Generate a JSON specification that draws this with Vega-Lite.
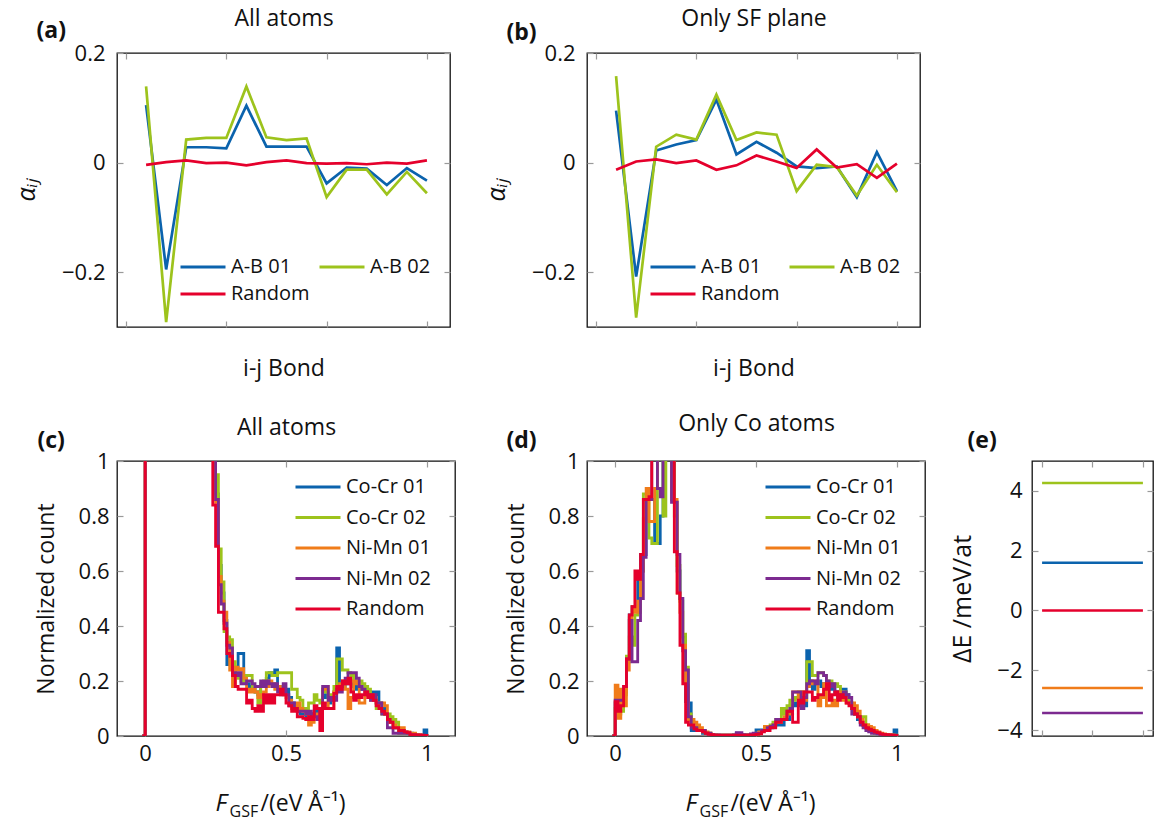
{
  "$schema": "https://vega.github.io/schema/vega-lite/v6.json",
  "background": "white",
  "padding": {"left": 13, "top": 6, "right": 5, "bottom": 5},
  "config": {
    "font": "Open Sans",
    "view": {"stroke": "#111111", "strokeWidth": 1.3},
    "axis": {
      "grid": false, "domain": false,
      "tickColor": "#9a9a9a", "tickWidth": 1.2, "tickSize": -6,
      "labelFont": "Open Sans", "titleFont": "Open Sans",
      "labelFontSize": 22, "titleFontSize": 23,
      "labelColor": "#111111", "titleColor": "#111111",
      "titleFontWeight": "normal"
    },
    "legend": {"labelFont": "Open Sans", "labelFontSize": 20, "labelColor": "#111111"}
  },
  "datasets": {
    "alphaAll": [
      {"bond": 1, "A-B 01": 0.105, "A-B 02": 0.139, "Random": -0.004},
      {"bond": 2, "A-B 01": -0.195, "A-B 02": -0.291, "Random": 0.001},
      {"bond": 3, "A-B 01": 0.028, "A-B 02": 0.042, "Random": 0.004},
      {"bond": 4, "A-B 01": 0.028, "A-B 02": 0.045, "Random": -0.001},
      {"bond": 5, "A-B 01": 0.026, "A-B 02": 0.045, "Random": 0.0},
      {"bond": 6, "A-B 01": 0.104, "A-B 02": 0.139, "Random": -0.005},
      {"bond": 7, "A-B 01": 0.029, "A-B 02": 0.046, "Random": 0.001},
      {"bond": 8, "A-B 01": 0.029, "A-B 02": 0.041, "Random": 0.004},
      {"bond": 9, "A-B 01": 0.029, "A-B 02": 0.044, "Random": -0.001},
      {"bond": 10, "A-B 01": -0.038, "A-B 02": -0.063, "Random": -0.002},
      {"bond": 11, "A-B 01": -0.009, "A-B 02": -0.013, "Random": -0.001},
      {"bond": 12, "A-B 01": -0.011, "A-B 02": -0.013, "Random": -0.003},
      {"bond": 13, "A-B 01": -0.041, "A-B 02": -0.058, "Random": 0.0},
      {"bond": 14, "A-B 01": -0.010, "A-B 02": -0.017, "Random": -0.002},
      {"bond": 15, "A-B 01": -0.033, "A-B 02": -0.056, "Random": 0.004}
    ],
    "alphaSF": [
      {"bond": 1, "A-B 01": 0.095, "A-B 02": 0.158, "Random": -0.013},
      {"bond": 2, "A-B 01": -0.208, "A-B 02": -0.283, "Random": 0.002},
      {"bond": 3, "A-B 01": 0.022, "A-B 02": 0.029, "Random": 0.006},
      {"bond": 4, "A-B 01": 0.033, "A-B 02": 0.051, "Random": -0.001},
      {"bond": 5, "A-B 01": 0.041, "A-B 02": 0.042, "Random": 0.004},
      {"bond": 6, "A-B 01": 0.115, "A-B 02": 0.124, "Random": -0.013},
      {"bond": 7, "A-B 01": 0.015, "A-B 02": 0.041, "Random": -0.005},
      {"bond": 8, "A-B 01": 0.038, "A-B 02": 0.055, "Random": 0.013},
      {"bond": 9, "A-B 01": 0.018, "A-B 02": 0.051, "Random": 0.002},
      {"bond": 10, "A-B 01": -0.007, "A-B 02": -0.052, "Random": -0.010},
      {"bond": 11, "A-B 01": -0.010, "A-B 02": -0.004, "Random": 0.024},
      {"bond": 12, "A-B 01": -0.007, "A-B 02": -0.008, "Random": -0.009},
      {"bond": 13, "A-B 01": -0.063, "A-B 02": -0.060, "Random": -0.003},
      {"bond": 14, "A-B 01": 0.019, "A-B 02": -0.004, "Random": -0.028},
      {"bond": 15, "A-B 01": -0.052, "A-B 02": -0.054, "Random": -0.002}
    ],
    "gsfAll": [
      {"x": -0.01, "cocr1": 0, "cocr2": 0, "nimn1": 0, "nimn2": 0, "rand": 0},
      {"x": 0.00, "cocr1": 3, "cocr2": 3, "nimn1": 3, "nimn2": 3, "rand": 3},
      {"x": 0.24, "cocr1": 1.2, "cocr2": 1.2, "nimn1": 1.1, "nimn2": 1.1, "rand": 0.84},
      {"x": 0.25, "cocr1": 0.88, "cocr2": 0.95, "nimn1": 0.85, "nimn2": 0.86, "rand": 0.69},
      {"x": 0.26, "cocr1": 0.62, "cocr2": 0.68, "nimn1": 0.58, "nimn2": 0.55, "rand": 0.45},
      {"x": 0.27, "cocr1": 0.52, "cocr2": 0.56, "nimn1": 0.49, "nimn2": 0.48, "rand": 0.45},
      {"x": 0.28, "cocr1": 0.42, "cocr2": 0.38, "nimn1": 0.45, "nimn2": 0.41, "rand": 0.39},
      {"x": 0.29, "cocr1": 0.26, "cocr2": 0.36, "nimn1": 0.34, "nimn2": 0.33, "rand": 0.30},
      {"x": 0.30, "cocr1": 0.28, "cocr2": 0.35, "nimn1": 0.24, "nimn2": 0.32, "rand": 0.29},
      {"x": 0.31, "cocr1": 0.24, "cocr2": 0.27, "nimn1": 0.18, "nimn2": 0.23, "rand": 0.22},
      {"x": 0.32, "cocr1": 0.25, "cocr2": 0.22, "nimn1": 0.25, "nimn2": 0.22, "rand": 0.18},
      {"x": 0.33, "cocr1": 0.30, "cocr2": 0.21, "nimn1": 0.24, "nimn2": 0.23, "rand": 0.17},
      {"x": 0.34, "cocr1": 0.30, "cocr2": 0.20, "nimn1": 0.245, "nimn2": 0.19, "rand": 0.17},
      {"x": 0.35, "cocr1": 0.20, "cocr2": 0.22, "nimn1": 0.21, "nimn2": 0.19, "rand": 0.17},
      {"x": 0.36, "cocr1": 0.19, "cocr2": 0.22, "nimn1": 0.17, "nimn2": 0.20, "rand": 0.12},
      {"x": 0.37, "cocr1": 0.18, "cocr2": 0.22, "nimn1": 0.16, "nimn2": 0.20, "rand": 0.13},
      {"x": 0.38, "cocr1": 0.17, "cocr2": 0.17, "nimn1": 0.17, "nimn2": 0.19, "rand": 0.10},
      {"x": 0.39, "cocr1": 0.16, "cocr2": 0.16, "nimn1": 0.16, "nimn2": 0.18, "rand": 0.09},
      {"x": 0.40, "cocr1": 0.15, "cocr2": 0.12, "nimn1": 0.14, "nimn2": 0.18, "rand": 0.11},
      {"x": 0.41, "cocr1": 0.18, "cocr2": 0.19, "nimn1": 0.15, "nimn2": 0.20, "rand": 0.09},
      {"x": 0.42, "cocr1": 0.19, "cocr2": 0.20, "nimn1": 0.16, "nimn2": 0.18, "rand": 0.15},
      {"x": 0.43, "cocr1": 0.21, "cocr2": 0.23, "nimn1": 0.18, "nimn2": 0.20, "rand": 0.12},
      {"x": 0.44, "cocr1": 0.23, "cocr2": 0.23, "nimn1": 0.20, "nimn2": 0.19, "rand": 0.15},
      {"x": 0.45, "cocr1": 0.22, "cocr2": 0.22, "nimn1": 0.19, "nimn2": 0.18, "rand": 0.12},
      {"x": 0.46, "cocr1": 0.24, "cocr2": 0.22, "nimn1": 0.17, "nimn2": 0.19, "rand": 0.15},
      {"x": 0.47, "cocr1": 0.18, "cocr2": 0.23, "nimn1": 0.18, "nimn2": 0.16, "rand": 0.15},
      {"x": 0.48, "cocr1": 0.17, "cocr2": 0.23, "nimn1": 0.16, "nimn2": 0.15, "rand": 0.17},
      {"x": 0.49, "cocr1": 0.16, "cocr2": 0.23, "nimn1": 0.15, "nimn2": 0.19, "rand": 0.15},
      {"x": 0.50, "cocr1": 0.17, "cocr2": 0.23, "nimn1": 0.14, "nimn2": 0.15, "rand": 0.12},
      {"x": 0.51, "cocr1": 0.14, "cocr2": 0.23, "nimn1": 0.13, "nimn2": 0.11, "rand": 0.11},
      {"x": 0.52, "cocr1": 0.12, "cocr2": 0.17, "nimn1": 0.10, "nimn2": 0.12, "rand": 0.09},
      {"x": 0.53, "cocr1": 0.11, "cocr2": 0.17, "nimn1": 0.11, "nimn2": 0.10, "rand": 0.10},
      {"x": 0.54, "cocr1": 0.09, "cocr2": 0.14, "nimn1": 0.12, "nimn2": 0.09, "rand": 0.07},
      {"x": 0.55, "cocr1": 0.08, "cocr2": 0.13, "nimn1": 0.10, "nimn2": 0.09, "rand": 0.07},
      {"x": 0.56, "cocr1": 0.08, "cocr2": 0.10, "nimn1": 0.09, "nimn2": 0.09, "rand": 0.064},
      {"x": 0.57, "cocr1": 0.07, "cocr2": 0.10, "nimn1": 0.08, "nimn2": 0.08, "rand": 0.06},
      {"x": 0.58, "cocr1": 0.07, "cocr2": 0.12, "nimn1": 0.04, "nimn2": 0.09, "rand": 0.07},
      {"x": 0.59, "cocr1": 0.08, "cocr2": 0.12, "nimn1": 0.05, "nimn2": 0.08, "rand": 0.06},
      {"x": 0.60, "cocr1": 0.09, "cocr2": 0.15, "nimn1": 0.07, "nimn2": 0.07, "rand": 0.11},
      {"x": 0.61, "cocr1": 0.08, "cocr2": 0.13, "nimn1": 0.08, "nimn2": 0.06, "rand": 0.10},
      {"x": 0.62, "cocr1": 0.09, "cocr2": 0.12, "nimn1": 0.07, "nimn2": 0.10, "rand": 0.02},
      {"x": 0.63, "cocr1": 0.14, "cocr2": 0.17, "nimn1": 0.17, "nimn2": 0.18, "rand": 0.12},
      {"x": 0.64, "cocr1": 0.15, "cocr2": 0.16, "nimn1": 0.18, "nimn2": 0.18, "rand": 0.10},
      {"x": 0.65, "cocr1": 0.12, "cocr2": 0.14, "nimn1": 0.10, "nimn2": 0.13, "rand": 0.10},
      {"x": 0.66, "cocr1": 0.13, "cocr2": 0.15, "nimn1": 0.10, "nimn2": 0.14, "rand": 0.10},
      {"x": 0.67, "cocr1": 0.16, "cocr2": 0.18, "nimn1": 0.16, "nimn2": 0.13, "rand": 0.155},
      {"x": 0.68, "cocr1": 0.32, "cocr2": 0.28, "nimn1": 0.18, "nimn2": 0.17, "rand": 0.18},
      {"x": 0.69, "cocr1": 0.19, "cocr2": 0.28, "nimn1": 0.19, "nimn2": 0.16, "rand": 0.17},
      {"x": 0.70, "cocr1": 0.18, "cocr2": 0.24, "nimn1": 0.20, "nimn2": 0.19, "rand": 0.20},
      {"x": 0.71, "cocr1": 0.20, "cocr2": 0.24, "nimn1": 0.17, "nimn2": 0.21, "rand": 0.19},
      {"x": 0.72, "cocr1": 0.19, "cocr2": 0.23, "nimn1": 0.10, "nimn2": 0.23, "rand": 0.21},
      {"x": 0.73, "cocr1": 0.19, "cocr2": 0.22, "nimn1": 0.14, "nimn2": 0.23, "rand": 0.16},
      {"x": 0.74, "cocr1": 0.18, "cocr2": 0.20, "nimn1": 0.20, "nimn2": 0.23, "rand": 0.13},
      {"x": 0.75, "cocr1": 0.17, "cocr2": 0.20, "nimn1": 0.19, "nimn2": 0.21, "rand": 0.15},
      {"x": 0.76, "cocr1": 0.18, "cocr2": 0.20, "nimn1": 0.12, "nimn2": 0.18, "rand": 0.14},
      {"x": 0.77, "cocr1": 0.17, "cocr2": 0.19, "nimn1": 0.12, "nimn2": 0.17, "rand": 0.15},
      {"x": 0.78, "cocr1": 0.17, "cocr2": 0.18, "nimn1": 0.16, "nimn2": 0.16, "rand": 0.16},
      {"x": 0.79, "cocr1": 0.15, "cocr2": 0.17, "nimn1": 0.15, "nimn2": 0.15, "rand": 0.14},
      {"x": 0.80, "cocr1": 0.16, "cocr2": 0.15, "nimn1": 0.13, "nimn2": 0.13, "rand": 0.15},
      {"x": 0.81, "cocr1": 0.15, "cocr2": 0.14, "nimn1": 0.14, "nimn2": 0.15, "rand": 0.13},
      {"x": 0.82, "cocr1": 0.16, "cocr2": 0.10, "nimn1": 0.12, "nimn2": 0.12, "rand": 0.11},
      {"x": 0.83, "cocr1": 0.12, "cocr2": 0.10, "nimn1": 0.12, "nimn2": 0.12, "rand": 0.10},
      {"x": 0.84, "cocr1": 0.10, "cocr2": 0.08, "nimn1": 0.12, "nimn2": 0.08, "rand": 0.09},
      {"x": 0.85, "cocr1": 0.08, "cocr2": 0.08, "nimn1": 0.11, "nimn2": 0.08, "rand": 0.08},
      {"x": 0.86, "cocr1": 0.06, "cocr2": 0.08, "nimn1": 0.05, "nimn2": 0.03, "rand": 0.06},
      {"x": 0.87, "cocr1": 0.05, "cocr2": 0.07, "nimn1": 0.05, "nimn2": 0.03, "rand": 0.05},
      {"x": 0.88, "cocr1": 0.04, "cocr2": 0.06, "nimn1": 0.04, "nimn2": 0.01, "rand": 0.03},
      {"x": 0.89, "cocr1": 0.03, "cocr2": 0.05, "nimn1": 0.03, "nimn2": 0.01, "rand": 0.03},
      {"x": 0.90, "cocr1": 0.02, "cocr2": 0.01, "nimn1": 0.03, "nimn2": 0.01, "rand": 0.02},
      {"x": 0.91, "cocr1": 0.02, "cocr2": 0.01, "nimn1": 0.03, "nimn2": 0.01, "rand": 0.02},
      {"x": 0.92, "cocr1": 0.015, "cocr2": 0.01, "nimn1": 0.015, "nimn2": 0.01, "rand": 0.015},
      {"x": 0.93, "cocr1": 0.01, "cocr2": 0.01, "nimn1": 0.015, "nimn2": 0.01, "rand": 0.012},
      {"x": 0.94, "cocr1": 0.01, "cocr2": 0.005, "nimn1": 0.01, "nimn2": 0.005, "rand": 0.005},
      {"x": 0.95, "cocr1": 0.005, "cocr2": 0.005, "nimn1": 0.01, "nimn2": 0.005, "rand": 0.005},
      {"x": 0.96, "cocr1": 0.005, "cocr2": 0.003, "nimn1": 0.005, "nimn2": 0.003, "rand": 0.004},
      {"x": 0.97, "cocr1": 0.003, "cocr2": 0.003, "nimn1": 0.004, "nimn2": 0.003, "rand": 0.004},
      {"x": 0.98, "cocr1": 0.003, "cocr2": 0.002, "nimn1": 0.002, "nimn2": 0.002, "rand": 0.003},
      {"x": 0.99, "cocr1": 0.022, "cocr2": 0.002, "nimn1": 0.002, "nimn2": 0.002, "rand": 0.002},
      {"x": 1.00, "cocr1": 0, "cocr2": 0, "nimn1": 0, "nimn2": 0, "rand": 0}
    ],
    "gsfCo": [
      {"x": -0.01, "cocr1": 0, "cocr2": 0, "nimn1": 0, "nimn2": 0, "rand": 0},
      {"x": 0.00, "cocr1": 0.12, "cocr2": 0.10, "nimn1": 0.185, "nimn2": 0.13, "rand": 0.125},
      {"x": 0.01, "cocr1": 0.10, "cocr2": 0.08, "nimn1": 0.064, "nimn2": 0.13, "rand": 0.09},
      {"x": 0.02, "cocr1": 0.12, "cocr2": 0.09, "nimn1": 0.17, "nimn2": 0.13, "rand": 0.11},
      {"x": 0.03, "cocr1": 0.16, "cocr2": 0.15, "nimn1": 0.11, "nimn2": 0.18, "rand": 0.18},
      {"x": 0.04, "cocr1": 0.27, "cocr2": 0.29, "nimn1": 0.24, "nimn2": 0.28, "rand": 0.28},
      {"x": 0.05, "cocr1": 0.44, "cocr2": 0.36, "nimn1": 0.43, "nimn2": 0.42, "rand": 0.44},
      {"x": 0.06, "cocr1": 0.47, "cocr2": 0.33, "nimn1": 0.47, "nimn2": 0.27, "rand": 0.47},
      {"x": 0.07, "cocr1": 0.47, "cocr2": 0.44, "nimn1": 0.45, "nimn2": 0.27, "rand": 0.60},
      {"x": 0.08, "cocr1": 0.57, "cocr2": 0.45, "nimn1": 0.49, "nimn2": 0.42, "rand": 0.57},
      {"x": 0.09, "cocr1": 0.66, "cocr2": 0.60, "nimn1": 0.60, "nimn2": 0.50, "rand": 0.66},
      {"x": 0.10, "cocr1": 0.66, "cocr2": 0.88, "nimn1": 0.79, "nimn2": 0.65, "rand": 0.86},
      {"x": 0.11, "cocr1": 0.87, "cocr2": 0.88, "nimn1": 0.90, "nimn2": 0.86, "rand": 0.86},
      {"x": 0.12, "cocr1": 0.86, "cocr2": 0.72, "nimn1": 0.78, "nimn2": 0.86, "rand": 0.87},
      {"x": 0.13, "cocr1": 0.86, "cocr2": 0.70, "nimn1": 0.78, "nimn2": 1.1, "rand": 1.2},
      {"x": 0.14, "cocr1": 0.70, "cocr2": 0.70, "nimn1": 0.90, "nimn2": 1.1, "rand": 1.2},
      {"x": 0.15, "cocr1": 0.70, "cocr2": 1.1, "nimn1": 1.1, "nimn2": 0.90, "rand": 1.2},
      {"x": 0.16, "cocr1": 0.80, "cocr2": 1.1, "nimn1": 1.1, "nimn2": 0.87, "rand": 1.2},
      {"x": 0.17, "cocr1": 1.1, "cocr2": 0.80, "nimn1": 1.1, "nimn2": 1.1, "rand": 1.2},
      {"x": 0.18, "cocr1": 1.1, "cocr2": 1.1, "nimn1": 1.1, "nimn2": 1.1, "rand": 1.2},
      {"x": 0.19, "cocr1": 1.1, "cocr2": 1.1, "nimn1": 1.1, "nimn2": 1.1, "rand": 1.2},
      {"x": 0.20, "cocr1": 1.1, "cocr2": 1.1, "nimn1": 0.86, "nimn2": 0.85, "rand": 1.2},
      {"x": 0.21, "cocr1": 0.85, "cocr2": 0.80, "nimn1": 0.86, "nimn2": 0.85, "rand": 0.67},
      {"x": 0.22, "cocr1": 0.60, "cocr2": 0.62, "nimn1": 0.52, "nimn2": 0.66, "rand": 0.52},
      {"x": 0.23, "cocr1": 0.50, "cocr2": 0.49, "nimn1": 0.45, "nimn2": 0.50, "rand": 0.33},
      {"x": 0.24, "cocr1": 0.36, "cocr2": 0.37, "nimn1": 0.33, "nimn2": 0.31, "rand": 0.19},
      {"x": 0.25, "cocr1": 0.125, "cocr2": 0.25, "nimn1": 0.185, "nimn2": 0.24, "rand": 0.05},
      {"x": 0.26, "cocr1": 0.12, "cocr2": 0.08, "nimn1": 0.06, "nimn2": 0.07, "rand": 0.04},
      {"x": 0.27, "cocr1": 0.02, "cocr2": 0.05, "nimn1": 0.06, "nimn2": 0.03, "rand": 0.04},
      {"x": 0.28, "cocr1": 0.03, "cocr2": 0.03, "nimn1": 0.05, "nimn2": 0.03, "rand": 0.025},
      {"x": 0.29, "cocr1": 0.02, "cocr2": 0.03, "nimn1": 0.04, "nimn2": 0.02, "rand": 0.02},
      {"x": 0.30, "cocr1": 0.02, "cocr2": 0.02, "nimn1": 0.03, "nimn2": 0.02, "rand": 0.02},
      {"x": 0.31, "cocr1": 0.01, "cocr2": 0.015, "nimn1": 0.02, "nimn2": 0.02, "rand": 0.015},
      {"x": 0.32, "cocr1": 0.01, "cocr2": 0.01, "nimn1": 0.015, "nimn2": 0.01, "rand": 0.01},
      {"x": 0.33, "cocr1": 0.008, "cocr2": 0.01, "nimn1": 0.01, "nimn2": 0.01, "rand": 0.006},
      {"x": 0.34, "cocr1": 0.005, "cocr2": 0.005, "nimn1": 0.005, "nimn2": 0.005, "rand": 0.005},
      {"x": 0.35, "cocr1": 0.003, "cocr2": 0.004, "nimn1": 0.004, "nimn2": 0.003, "rand": 0.003},
      {"x": 0.36, "cocr1": 0.003, "cocr2": 0.003, "nimn1": 0.003, "nimn2": 0.004, "rand": 0.003},
      {"x": 0.37, "cocr1": 0.002, "cocr2": 0.003, "nimn1": 0.003, "nimn2": 0.003, "rand": 0.003},
      {"x": 0.38, "cocr1": 0.003, "cocr2": 0.002, "nimn1": 0.003, "nimn2": 0.003, "rand": 0.003},
      {"x": 0.39, "cocr1": 0.003, "cocr2": 0.003, "nimn1": 0.002, "nimn2": 0.003, "rand": 0.003},
      {"x": 0.40, "cocr1": 0.003, "cocr2": 0.003, "nimn1": 0.003, "nimn2": 0.002, "rand": 0.003},
      {"x": 0.41, "cocr1": 0.003, "cocr2": 0.002, "nimn1": 0.003, "nimn2": 0.003, "rand": 0.003},
      {"x": 0.42, "cocr1": 0.004, "cocr2": 0.003, "nimn1": 0.003, "nimn2": 0.004, "rand": 0.003},
      {"x": 0.43, "cocr1": 0.01, "cocr2": 0.003, "nimn1": 0.003, "nimn2": 0.012, "rand": 0.003},
      {"x": 0.44, "cocr1": 0.005, "cocr2": 0.003, "nimn1": 0.004, "nimn2": 0.012, "rand": 0.003},
      {"x": 0.45, "cocr1": 0.004, "cocr2": 0.003, "nimn1": 0.003, "nimn2": 0.005, "rand": 0.003},
      {"x": 0.46, "cocr1": 0.003, "cocr2": 0.004, "nimn1": 0.003, "nimn2": 0.003, "rand": 0.003},
      {"x": 0.47, "cocr1": 0.004, "cocr2": 0.003, "nimn1": 0.004, "nimn2": 0.004, "rand": 0.003},
      {"x": 0.48, "cocr1": 0.004, "cocr2": 0.004, "nimn1": 0.005, "nimn2": 0.008, "rand": 0.004},
      {"x": 0.49, "cocr1": 0.005, "cocr2": 0.004, "nimn1": 0.005, "nimn2": 0.01, "rand": 0.004},
      {"x": 0.50, "cocr1": 0.022, "cocr2": 0.006, "nimn1": 0.01, "nimn2": 0.01, "rand": 0.006},
      {"x": 0.51, "cocr1": 0.022, "cocr2": 0.01, "nimn1": 0.015, "nimn2": 0.01, "rand": 0.008},
      {"x": 0.52, "cocr1": 0.02, "cocr2": 0.02, "nimn1": 0.02, "nimn2": 0.02, "rand": 0.015},
      {"x": 0.53, "cocr1": 0.025, "cocr2": 0.03, "nimn1": 0.035, "nimn2": 0.02, "rand": 0.02},
      {"x": 0.54, "cocr1": 0.03, "cocr2": 0.035, "nimn1": 0.035, "nimn2": 0.03, "rand": 0.02},
      {"x": 0.55, "cocr1": 0.03, "cocr2": 0.04, "nimn1": 0.035, "nimn2": 0.035, "rand": 0.03},
      {"x": 0.56, "cocr1": 0.035, "cocr2": 0.05, "nimn1": 0.04, "nimn2": 0.04, "rand": 0.03},
      {"x": 0.57, "cocr1": 0.04, "cocr2": 0.06, "nimn1": 0.05, "nimn2": 0.06, "rand": 0.05},
      {"x": 0.58, "cocr1": 0.05, "cocr2": 0.06, "nimn1": 0.05, "nimn2": 0.06, "rand": 0.05},
      {"x": 0.59, "cocr1": 0.04, "cocr2": 0.10, "nimn1": 0.06, "nimn2": 0.06, "rand": 0.06},
      {"x": 0.60, "cocr1": 0.06, "cocr2": 0.08, "nimn1": 0.07, "nimn2": 0.06, "rand": 0.06},
      {"x": 0.61, "cocr1": 0.06, "cocr2": 0.11, "nimn1": 0.08, "nimn2": 0.09, "rand": 0.09},
      {"x": 0.62, "cocr1": 0.08, "cocr2": 0.13, "nimn1": 0.09, "nimn2": 0.10, "rand": 0.09},
      {"x": 0.63, "cocr1": 0.11, "cocr2": 0.13, "nimn1": 0.16, "nimn2": 0.16, "rand": 0.05},
      {"x": 0.64, "cocr1": 0.12, "cocr2": 0.14, "nimn1": 0.16, "nimn2": 0.16, "rand": 0.05},
      {"x": 0.65, "cocr1": 0.11, "cocr2": 0.16, "nimn1": 0.14, "nimn2": 0.16, "rand": 0.13},
      {"x": 0.66, "cocr1": 0.13, "cocr2": 0.16, "nimn1": 0.16, "nimn2": 0.10, "rand": 0.12},
      {"x": 0.67, "cocr1": 0.11, "cocr2": 0.14, "nimn1": 0.13, "nimn2": 0.14, "rand": 0.16},
      {"x": 0.68, "cocr1": 0.31, "cocr2": 0.27, "nimn1": 0.18, "nimn2": 0.19, "rand": 0.16},
      {"x": 0.69, "cocr1": 0.20, "cocr2": 0.27, "nimn1": 0.19, "nimn2": 0.20, "rand": 0.16},
      {"x": 0.70, "cocr1": 0.17, "cocr2": 0.22, "nimn1": 0.20, "nimn2": 0.20, "rand": 0.13},
      {"x": 0.71, "cocr1": 0.19, "cocr2": 0.22, "nimn1": 0.20, "nimn2": 0.19, "rand": 0.14},
      {"x": 0.72, "cocr1": 0.20, "cocr2": 0.23, "nimn1": 0.11, "nimn2": 0.23, "rand": 0.15},
      {"x": 0.73, "cocr1": 0.18, "cocr2": 0.23, "nimn1": 0.14, "nimn2": 0.23, "rand": 0.15},
      {"x": 0.74, "cocr1": 0.19, "cocr2": 0.22, "nimn1": 0.19, "nimn2": 0.22, "rand": 0.17},
      {"x": 0.75, "cocr1": 0.18, "cocr2": 0.20, "nimn1": 0.11, "nimn2": 0.20, "rand": 0.19},
      {"x": 0.76, "cocr1": 0.17, "cocr2": 0.20, "nimn1": 0.11, "nimn2": 0.18, "rand": 0.13},
      {"x": 0.77, "cocr1": 0.18, "cocr2": 0.19, "nimn1": 0.13, "nimn2": 0.19, "rand": 0.15},
      {"x": 0.78, "cocr1": 0.16, "cocr2": 0.19, "nimn1": 0.11, "nimn2": 0.16, "rand": 0.16},
      {"x": 0.79, "cocr1": 0.15, "cocr2": 0.18, "nimn1": 0.16, "nimn2": 0.14, "rand": 0.13},
      {"x": 0.80, "cocr1": 0.17, "cocr2": 0.16, "nimn1": 0.14, "nimn2": 0.15, "rand": 0.15},
      {"x": 0.81, "cocr1": 0.17, "cocr2": 0.16, "nimn1": 0.13, "nimn2": 0.16, "rand": 0.14},
      {"x": 0.82, "cocr1": 0.15, "cocr2": 0.13, "nimn1": 0.12, "nimn2": 0.15, "rand": 0.12},
      {"x": 0.83, "cocr1": 0.12, "cocr2": 0.12, "nimn1": 0.12, "nimn2": 0.14, "rand": 0.11},
      {"x": 0.84, "cocr1": 0.10, "cocr2": 0.10, "nimn1": 0.12, "nimn2": 0.08, "rand": 0.10},
      {"x": 0.85, "cocr1": 0.08, "cocr2": 0.08, "nimn1": 0.11, "nimn2": 0.08, "rand": 0.08},
      {"x": 0.86, "cocr1": 0.06, "cocr2": 0.07, "nimn1": 0.09, "nimn2": 0.07, "rand": 0.07},
      {"x": 0.87, "cocr1": 0.05, "cocr2": 0.07, "nimn1": 0.06, "nimn2": 0.04, "rand": 0.05},
      {"x": 0.88, "cocr1": 0.04, "cocr2": 0.07, "nimn1": 0.04, "nimn2": 0.03, "rand": 0.04},
      {"x": 0.89, "cocr1": 0.03, "cocr2": 0.04, "nimn1": 0.04, "nimn2": 0.02, "rand": 0.03},
      {"x": 0.90, "cocr1": 0.025, "cocr2": 0.02, "nimn1": 0.035, "nimn2": 0.015, "rand": 0.025},
      {"x": 0.91, "cocr1": 0.02, "cocr2": 0.015, "nimn1": 0.03, "nimn2": 0.01, "rand": 0.02},
      {"x": 0.92, "cocr1": 0.015, "cocr2": 0.01, "nimn1": 0.02, "nimn2": 0.01, "rand": 0.015},
      {"x": 0.93, "cocr1": 0.01, "cocr2": 0.01, "nimn1": 0.015, "nimn2": 0.008, "rand": 0.012},
      {"x": 0.94, "cocr1": 0.008, "cocr2": 0.005, "nimn1": 0.01, "nimn2": 0.005, "rand": 0.008},
      {"x": 0.95, "cocr1": 0.005, "cocr2": 0.005, "nimn1": 0.008, "nimn2": 0.004, "rand": 0.006},
      {"x": 0.96, "cocr1": 0.005, "cocr2": 0.004, "nimn1": 0.006, "nimn2": 0.003, "rand": 0.005},
      {"x": 0.97, "cocr1": 0.004, "cocr2": 0.003, "nimn1": 0.005, "nimn2": 0.003, "rand": 0.004},
      {"x": 0.98, "cocr1": 0.003, "cocr2": 0.002, "nimn1": 0.004, "nimn2": 0.002, "rand": 0.003},
      {"x": 0.99, "cocr1": 0.022, "cocr2": 0.002, "nimn1": 0.003, "nimn2": 0.002, "rand": 0.002},
      {"x": 1.00, "cocr1": 0, "cocr2": 0, "nimn1": 0, "nimn2": 0, "rand": 0}
    ],
    "energy": [
      {"series": "cocr2", "dE": 4.26},
      {"series": "cocr1", "dE": 1.60},
      {"series": "rand", "dE": 0.0},
      {"series": "nimn1", "dE": -2.59},
      {"series": "nimn2", "dE": -3.43}
    ]
  },
  "resolve": {"scale": {"color": "independent"}, "legend": {"color": "independent"}},
  "bounds": "flush",
  "spacing": 408,
  "vconcat": [
    {
      "bounds": "flush",
      "spacing": 137,
      "resolve": {"scale": {"color": "independent"}, "legend": {"color": "independent"}},
      "hconcat": [
        {
          "width": 333, "height": 274,
          "data": {"name": "alphaAll"},
          "transform": [{"fold": ["A-B 01", "A-B 02", "Random"], "as": ["pair", "alpha"]}],
          "layer": [
            {
              "mark": {"type": "line", "strokeWidth": 2.7, "clip": true},
              "encoding": {
                "x": {"field": "bond", "type": "quantitative", "scale": {"domain": [-0.45, 16.15], "nice": false, "zero": false},
                      "axis": {"values": [0, 5, 10, 15], "labels": false, "title": "i-j Bond", "titleBaseline": "middle", "titleY": 41}},
                "y": {"field": "alpha", "type": "quantitative", "scale": {"domain": [-0.3, 0.2], "nice": false, "zero": false},
                      "axis": {"values": [-0.2, 0, 0.2], "format": "~g", "labelPadding": 18, "title": "αᵢⱼ", "titleFontSize": 25, "titleFontStyle": "italic", "titleBaseline": "middle", "titleX": -91}},
                "color": {"field": "pair", "type": "nominal",
                          "scale": {"domain": ["A-B 01", "A-B 02", "Random"], "range": ["#0b63ad", "#9dc31c", "#e5002c"]},
                          "legend": {"orient": "none", "legendX": 59, "legendY": 204, "columns": 2, "direction": "horizontal", "title": null, "padding": 0,
                                     "symbolType": "M-5,0H5", "symbolSize": 81, "symbolStrokeWidth": 3, "symbolOffset": 17,
                                     "labelOffset": 18, "rowPadding": 7, "columnPadding": 3}}
              }
            },
            {
              "mark": {"type": "point", "opacity": 0},
              "encoding": {
                "x": {"field": "bond", "type": "quantitative", "axis": {"orient": "top", "values": [0, 5, 10, 15], "labels": false,
                      "title": "(a)", "titleFontWeight": "bold", "titleFontSize": 23, "titleAlign": "left", "titleBaseline": "middle", "titleX": -81, "titleY": -23}},
                "y": {"field": "alpha", "type": "quantitative", "axis": {"orient": "right", "values": [-0.2, 0, 0.2], "labels": false, "title": null}}
              }
            },
            {
              "mark": {"type": "point", "opacity": 0},
              "encoding": {
                "x": {"field": "bond", "type": "quantitative", "axis": {"orient": "top", "ticks": false, "labels": false,
                      "title": "All atoms", "titleBaseline": "middle", "titleY": -35}},
                "y": {"field": "alpha", "type": "quantitative", "axis": null}
              }
            }
          ],
          "resolve": {"axis": {"x": "independent", "y": "independent"}}
        },
        {
          "width": 333, "height": 274,
          "data": {"name": "alphaSF"},
          "transform": [{"fold": ["A-B 01", "A-B 02", "Random"], "as": ["pair", "alpha"]}],
          "layer": [
            {
              "mark": {"type": "line", "strokeWidth": 2.7, "clip": true},
              "encoding": {
                "x": {"field": "bond", "type": "quantitative", "scale": {"domain": [-0.45, 16.15], "nice": false, "zero": false},
                      "axis": {"values": [0, 5, 10, 15], "labels": false, "title": "i-j Bond", "titleBaseline": "middle", "titleY": 41}},
                "y": {"field": "alpha", "type": "quantitative", "scale": {"domain": [-0.3, 0.2], "nice": false, "zero": false},
                      "axis": {"values": [-0.2, 0, 0.2], "format": "~g", "labelPadding": 18, "title": "αᵢⱼ", "titleFontSize": 25, "titleFontStyle": "italic", "titleBaseline": "middle", "titleX": -91}},
                "color": {"field": "pair", "type": "nominal",
                          "scale": {"domain": ["A-B 01", "A-B 02", "Random"], "range": ["#0b63ad", "#9dc31c", "#e5002c"]},
                          "legend": {"orient": "none", "legendX": 59, "legendY": 204, "columns": 2, "direction": "horizontal", "title": null, "padding": 0,
                                     "symbolType": "M-5,0H5", "symbolSize": 81, "symbolStrokeWidth": 3, "symbolOffset": 17,
                                     "labelOffset": 18, "rowPadding": 7, "columnPadding": 3}}
              }
            },
            {
              "mark": {"type": "point", "opacity": 0},
              "encoding": {
                "x": {"field": "bond", "type": "quantitative", "axis": {"orient": "top", "values": [0, 5, 10, 15], "labels": false,
                      "title": "(b)", "titleFontWeight": "bold", "titleFontSize": 23, "titleAlign": "left", "titleBaseline": "middle", "titleX": -81, "titleY": -21}},
                "y": {"field": "alpha", "type": "quantitative", "axis": {"orient": "right", "values": [-0.2, 0, 0.2], "labels": false, "title": null}}
              }
            },
            {
              "mark": {"type": "point", "opacity": 0},
              "encoding": {
                "x": {"field": "bond", "type": "quantitative", "axis": {"orient": "top", "ticks": false, "labels": false,
                      "title": "Only SF plane", "titleBaseline": "middle", "titleY": -35}},
                "y": {"field": "alpha", "type": "quantitative", "axis": null}
              }
            }
          ],
          "resolve": {"axis": {"x": "independent", "y": "independent"}}
        }
      ]
    },
    {
      "bounds": "flush",
      "spacing": 132,
      "resolve": {"scale": {"color": "independent"}, "legend": {"color": "independent"}},
      "hconcat": [
        {
          "width": 338, "height": 275,
          "data": {"name": "gsfAll"},
          "transform": [{"fold": ["cocr1", "cocr2", "nimn1", "nimn2", "rand"], "as": ["series", "count"]}],
          "layer": [
            {
              "mark": {"type": "line", "interpolate": "step-after", "strokeWidth": 2.8, "clip": true},
              "encoding": {
                "x": {"field": "x", "type": "quantitative", "scale": {"domain": [-0.1, 1.1], "nice": false, "zero": false},
                      "axis": {"values": [0, 0.5, 1], "format": "~g", "labelPadding": 13,
                               "title": "F", "titleFontSize": 24, "titleFontStyle": "italic", "titleAlign": "left", "titleBaseline": "alphabetic", "titleX": 98, "titleY": 74}},
                "y": {"field": "count", "type": "quantitative", "scale": {"domain": [0, 1], "nice": false, "zero": false},
                      "axis": {"values": [0, 0.2, 0.4, 0.6, 0.8, 1], "format": "~g", "labelPadding": 14,
                               "title": "Normalized count", "titleBaseline": "middle", "titleX": -71}},
                "color": {"field": "series", "type": "nominal",
                          "scale": {"domain": ["cocr1", "cocr2", "nimn1", "nimn2", "rand"], "range": ["#0b63ad", "#9dc31c", "#f07c1a", "#7c2a90", "#e5002c"]},
                          "legend": {"orient": "none", "legendX": 174, "legendY": 16, "title": null, "padding": 0,
                                     "symbolType": "M-5,0H5", "symbolSize": 81, "symbolStrokeWidth": 3, "symbolOffset": 17,
                                     "labelOffset": 18, "rowPadding": 10.5,
                                     "labelExpr": "datum.label == 'cocr1' ? 'Co-Cr 01' : datum.label == 'cocr2' ? 'Co-Cr 02' : datum.label == 'nimn1' ? 'Ni-Mn 01' : datum.label == 'nimn2' ? 'Ni-Mn 02' : 'Random'"}}
              }
            },
            {
              "mark": {"type": "point", "opacity": 0, "clip": true},
              "encoding": {
                "x": {"field": "x", "type": "quantitative", "axis": {"orient": "top", "values": [0, 0.5, 1], "labels": false,
                      "title": "(c)", "titleFontWeight": "bold", "titleFontSize": 23, "titleAlign": "left", "titleBaseline": "middle", "titleX": -80, "titleY": -21}},
                "y": {"field": "count", "type": "quantitative", "axis": {"orient": "right", "values": [0, 0.2, 0.4, 0.6, 0.8, 1], "labels": false, "title": null}}
              }
            },
            {
              "mark": {"type": "point", "opacity": 0, "clip": true},
              "encoding": {
                "x": {"field": "x", "type": "quantitative", "axis": {"orient": "bottom", "ticks": false, "labels": false,
                      "title": "GSF", "titleFontSize": 16, "titleAlign": "left", "titleBaseline": "alphabetic", "titleX": 112, "titleY": 80}},
                "y": {"field": "count", "type": "quantitative", "axis": null}
              }
            },
            {
              "mark": {"type": "point", "opacity": 0, "clip": true},
              "encoding": {
                "x": {"field": "x", "type": "quantitative", "axis": {"orient": "bottom", "ticks": false, "labels": false,
                      "title": "/(eV Å⁻¹)", "titleAlign": "left", "titleBaseline": "alphabetic", "titleX": 143, "titleY": 74}},
                "y": {"field": "count", "type": "quantitative", "axis": null}
              }
            },
            {
              "mark": {"type": "point", "opacity": 0, "clip": true},
              "encoding": {
                "x": {"field": "x", "type": "quantitative", "axis": {"orient": "top", "ticks": false, "labels": false,
                      "title": "All atoms", "titleBaseline": "middle", "titleY": -34}},
                "y": {"field": "count", "type": "quantitative", "axis": null}
              }
            }
          ],
          "resolve": {"axis": {"x": "independent", "y": "independent"}}
        },
        {
          "bounds": "flush",
          "spacing": 107,
          "resolve": {"scale": {"color": "independent"}, "legend": {"color": "independent"}},
          "hconcat": [
            {
              "width": 338, "height": 275,
              "data": {"name": "gsfCo"},
              "transform": [{"fold": ["cocr1", "cocr2", "nimn1", "nimn2", "rand"], "as": ["series", "count"]}],
              "layer": [
                {
                  "mark": {"type": "line", "interpolate": "step-after", "strokeWidth": 2.8, "clip": true},
                  "encoding": {
                    "x": {"field": "x", "type": "quantitative", "scale": {"domain": [-0.1, 1.1], "nice": false, "zero": false},
                          "axis": {"values": [0, 0.5, 1], "format": "~g", "labelPadding": 13,
                                   "title": "F", "titleFontSize": 24, "titleFontStyle": "italic", "titleAlign": "left", "titleBaseline": "alphabetic", "titleX": 98, "titleY": 74}},
                    "y": {"field": "count", "type": "quantitative", "scale": {"domain": [0, 1], "nice": false, "zero": false},
                          "axis": {"values": [0, 0.2, 0.4, 0.6, 0.8, 1], "format": "~g", "labelPadding": 14,
                                   "title": "Normalized count", "titleBaseline": "middle", "titleX": -71}},
                    "color": {"field": "series", "type": "nominal",
                              "scale": {"domain": ["cocr1", "cocr2", "nimn1", "nimn2", "rand"], "range": ["#0b63ad", "#9dc31c", "#f07c1a", "#7c2a90", "#e5002c"]},
                              "legend": {"orient": "none", "legendX": 174, "legendY": 16, "title": null, "padding": 0,
                                         "symbolType": "M-5,0H5", "symbolSize": 81, "symbolStrokeWidth": 3, "symbolOffset": 17,
                                         "labelOffset": 18, "rowPadding": 10.5,
                                         "labelExpr": "datum.label == 'cocr1' ? 'Co-Cr 01' : datum.label == 'cocr2' ? 'Co-Cr 02' : datum.label == 'nimn1' ? 'Ni-Mn 01' : datum.label == 'nimn2' ? 'Ni-Mn 02' : 'Random'"}}
                  }
                },
                {
                  "mark": {"type": "point", "opacity": 0, "clip": true},
                  "encoding": {
                    "x": {"field": "x", "type": "quantitative", "axis": {"orient": "top", "values": [0, 0.5, 1], "labels": false,
                          "title": "(d)", "titleFontWeight": "bold", "titleFontSize": 23, "titleAlign": "left", "titleBaseline": "middle", "titleX": -81, "titleY": -21}},
                    "y": {"field": "count", "type": "quantitative", "axis": {"orient": "right", "values": [0, 0.2, 0.4, 0.6, 0.8, 1], "labels": false, "title": null}}
                  }
                },
                {
                  "mark": {"type": "point", "opacity": 0, "clip": true},
                  "encoding": {
                    "x": {"field": "x", "type": "quantitative", "axis": {"orient": "bottom", "ticks": false, "labels": false,
                          "title": "GSF", "titleFontSize": 16, "titleAlign": "left", "titleBaseline": "alphabetic", "titleX": 112, "titleY": 80}},
                    "y": {"field": "count", "type": "quantitative", "axis": null}
                  }
                },
                {
                  "mark": {"type": "point", "opacity": 0, "clip": true},
                  "encoding": {
                    "x": {"field": "x", "type": "quantitative", "axis": {"orient": "bottom", "ticks": false, "labels": false,
                          "title": "/(eV Å⁻¹)", "titleAlign": "left", "titleBaseline": "alphabetic", "titleX": 143, "titleY": 74}},
                    "y": {"field": "count", "type": "quantitative", "axis": null}
                  }
                },
                {
                  "mark": {"type": "point", "opacity": 0, "clip": true},
                  "encoding": {
                    "x": {"field": "x", "type": "quantitative", "axis": {"orient": "top", "ticks": false, "labels": false,
                          "title": "Only Co atoms", "titleBaseline": "middle", "titleY": -38}},
                    "y": {"field": "count", "type": "quantitative", "axis": null}
                  }
                }
              ],
              "resolve": {"axis": {"x": "independent", "y": "independent"}}
            },
            {
              "width": 121, "height": 275,
              "data": {"name": "energy"},
              "layer": [
                {
                  "mark": {"type": "rule", "strokeWidth": 2.5},
                  "encoding": {
                    "x": {"datum": 0, "type": "quantitative", "scale": {"domain": [-0.1, 1.1], "nice": false, "zero": false},
                          "axis": {"values": [0, 0.5, 1], "labels": false, "title": null}},
                    "x2": {"datum": 1},
                    "y": {"field": "dE", "type": "quantitative", "scale": {"domain": [-4.2, 5], "nice": false, "zero": false},
                          "axis": {"values": [-4, -2, 0, 2, 4], "format": "~g", "labelPadding": 16,
                                   "title": "ΔE /meV/at", "titleFontSize": 25, "titleBaseline": "middle", "titleX": -70}},
                    "color": {"field": "series", "type": "nominal",
                              "scale": {"domain": ["cocr1", "cocr2", "nimn1", "nimn2", "rand"], "range": ["#0b63ad", "#9dc31c", "#f07c1a", "#7c2a90", "#e5002c"]},
                              "legend": null}
                  }
                },
                {
                  "mark": {"type": "point", "opacity": 0},
                  "encoding": {
                    "x": {"datum": 0.5, "type": "quantitative", "axis": {"orient": "top", "values": [0, 0.5, 1], "labels": false,
                          "title": "(e)", "titleFontWeight": "bold", "titleFontSize": 23, "titleAlign": "left", "titleBaseline": "middle", "titleX": -65, "titleY": -21}},
                    "y": {"field": "dE", "type": "quantitative", "axis": {"orient": "right", "values": [-4, -2, 0, 2, 4], "labels": false, "title": null}}
                  }
                }
              ],
              "resolve": {"axis": {"x": "independent", "y": "independent"}}
            }
          ]
        }
      ]
    }
  ]
}
